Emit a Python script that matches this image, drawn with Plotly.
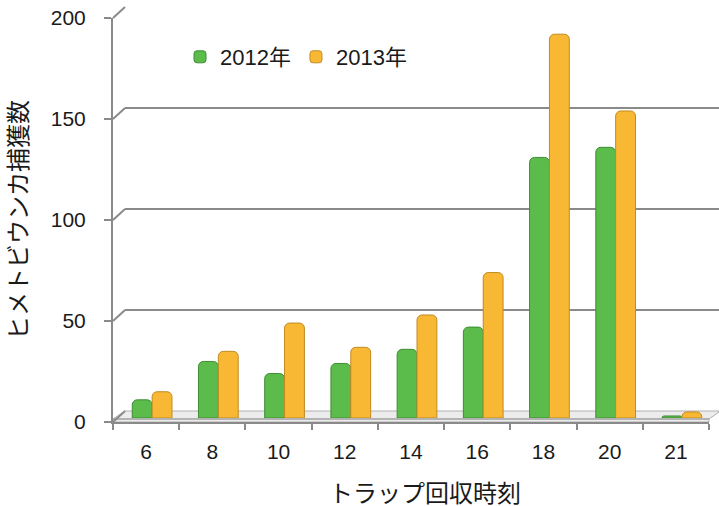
import plotly.graph_objects as go

# Trap collection hour (category labels) and catch counts per year
hours = ["6", "8", "10", "12", "14", "16", "18", "20", "21"]
catch_2012 = [9, 28, 22, 27, 34, 45, 129, 134, 1]
catch_2013 = [13, 33, 47, 35, 51, 72, 190, 152, 3]
y_ticks = [0, 50, 100, 150, 200]

W, H = 719, 506


def px(x):
    return x / W


def py(y):
    return (H - y) / H


FONT = "Liberation Sans, Arial, Noto Sans CJK JP, sans-serif"
AXIS_GRAY = "#8a8a8a"
TEXT = "#1a1a1a"

# Domains of the three planes of the pseudo-3D box (front axes, bar plane, back wall)
front_x = [px(113), px(709)]
front_y = [py(422), py(18)]
bar_x = [px(119), px(715)]
bar_y = [py(418), py(14)]
back_x = [px(125), 1.0]
back_y = [py(411), py(7)]

fig = go.Figure()

# placeholders so the back-wall and front-axis subplots get drawn
fig.add_trace(go.Scatter(x=[None], y=[None], xaxis="x", yaxis="y",
                         showlegend=False, hoverinfo="skip"))
fig.add_trace(go.Scatter(x=[None], y=[None], xaxis="x3", yaxis="y3",
                         showlegend=False, hoverinfo="skip"))

fig.add_trace(go.Bar(
    x=hours, y=catch_2012, name="2012年",
    xaxis="x2", yaxis="y2",
    marker=dict(color="#5cbc4b", line=dict(color="#3f8c35", width=1)),
))
fig.add_trace(go.Bar(
    x=hours, y=catch_2013, name="2013年",
    xaxis="x2", yaxis="y2",
    marker=dict(color="#f8b834", line=dict(color="#c08a22", width=1)),
))

ymax = 200.0
shapes = []

# Floor slab under the bars
floor_path = (
    f"M {px(113)},{py(422)} L {px(709)},{py(422)} L {px(709)},{py(419)} "
    f"L {px(719)},{py(412)} L {px(719)},{py(411)} L {px(125)},{py(411)} "
    f"L {px(113)},{py(419)} Z"
)
shapes.append(dict(type="path", path=floor_path, xref="paper", yref="paper",
                   fillcolor="#ececec", line=dict(color="#b0b0b0", width=1),
                   layer="below"))
shapes.append(dict(type="line", xref="paper", yref="paper",
                   x0=px(113), x1=px(709), y0=py(419), y1=py(419),
                   line=dict(color="#a0a0a0", width=1.5), layer="below"))

# Diagonal edges joining front ticks to back-wall gridlines
for v in y_ticks:
    yf = front_y[0] + v / ymax * (front_y[1] - front_y[0])
    yb = back_y[0] + v / ymax * (back_y[1] - back_y[0])
    shapes.append(dict(type="line", xref="paper", yref="paper",
                       x0=front_x[0], y0=yf, x1=back_x[0], y1=yb,
                       line=dict(color=AXIS_GRAY, width=2), layer="below"))

hidden = dict(showgrid=False, showticklabels=False, zeroline=False,
              showline=False, ticks="", automargin=False)

fig.update_layout(
    width=W, height=H,
    margin=dict(l=0, r=0, t=0, b=0, autoexpand=False),
    paper_bgcolor="white", plot_bgcolor="rgba(0,0,0,0)",
    font=dict(family=FONT, size=20, color=TEXT),
    barmode="group", bargap=0.4, bargroupgap=0.0, barcornerradius=5,
    showlegend=True,
    legend=dict(orientation="h", x=px(180), y=py(57), xanchor="left", yanchor="middle",
                font=dict(size=22, family=FONT, color=TEXT), itemwidth=30,
                bgcolor="rgba(0,0,0,0)", traceorder="normal"),
    # back wall with horizontal gridlines
    xaxis=dict(domain=back_x, anchor="y", range=[0, 1], **hidden),
    yaxis=dict(domain=back_y, anchor="x", range=[0, ymax], tickvals=y_ticks,
               showgrid=True, gridcolor=AXIS_GRAY, gridwidth=2,
               showticklabels=False, zeroline=False, showline=False, ticks="",
               automargin=False),
    # bar plane
    xaxis2=dict(domain=bar_x, anchor="y2", type="category", categoryarray=hours,
                range=[-0.5, len(hours) - 0.5], **hidden),
    yaxis2=dict(domain=bar_y, anchor="x2", range=[0, ymax], **hidden),
    # front axes with ticks and labels
    xaxis3=dict(domain=front_x, anchor="y3", range=[-0.5, len(hours) - 0.5],
                tickvals=list(range(len(hours))), ticktext=hours, ticks="",
                showline=True, linecolor=AXIS_GRAY, linewidth=2,
                showgrid=False, zeroline=False, ticklabelstandoff=10,
                automargin=False,
                tickfont=dict(size=21, family=FONT, color=TEXT),
                minor=dict(tickvals=[i - 0.5 for i in range(len(hours) + 1)],
                           ticks="outside", ticklen=6, tickcolor=AXIS_GRAY,
                           tickwidth=2, showgrid=False)),
    yaxis3=dict(domain=front_y, anchor="x3", range=[0, ymax], tickvals=y_ticks,
                ticks="outside", ticklen=7, tickcolor=AXIS_GRAY, tickwidth=2,
                showline=True, linecolor=AXIS_GRAY, linewidth=2,
                showgrid=False, zeroline=False, ticklabelstandoff=14,
                automargin=False,
                tickfont=dict(size=21, family=FONT, color=TEXT),
                title=dict(text="ヒメトビウンカ捕獲数", standoff=16,
                           font=dict(size=24, family=FONT, color=TEXT))),
    annotations=[dict(text="トラップ回収時刻", xref="paper", yref="paper",
                      x=px(425), y=py(493), xanchor="center", yanchor="middle",
                      showarrow=False,
                      font=dict(size=24, family=FONT, color=TEXT))],
    shapes=shapes,
)

fig.write_html("out.html")
